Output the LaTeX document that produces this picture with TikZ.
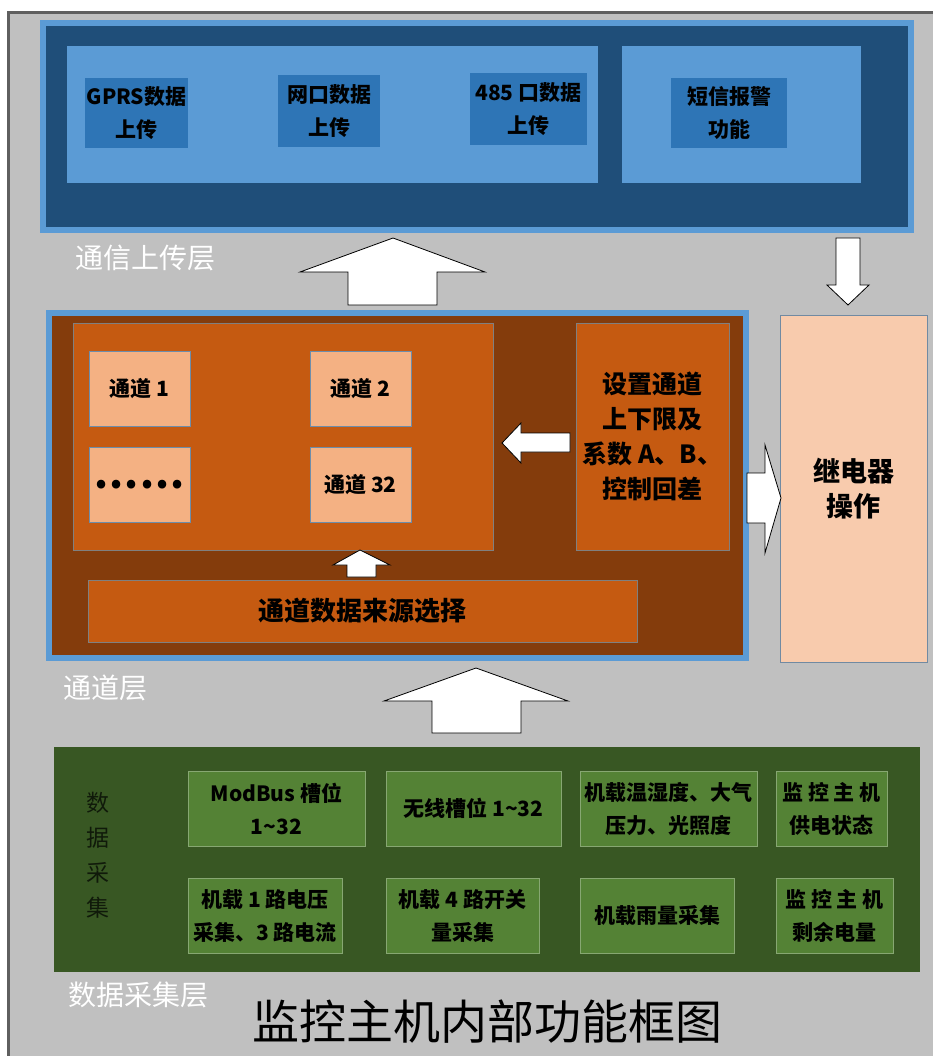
\documentclass[tikz,border=0pt]{standalone}
\usepackage{fontspec}
\setmainfont{Noto Sans CJK SC}
\usetikzlibrary{positioning}
\definecolor{framegray}{HTML}{C0C0C0}
\definecolor{edgegray}{HTML}{5F5F5F}
\definecolor{layerblue}{HTML}{5B9BD5}
\definecolor{commdark}{HTML}{1F4E79}
\definecolor{commbox}{HTML}{2E75B6}
\definecolor{chandark}{HTML}{843C0C}
\definecolor{chanpanel}{HTML}{C55A11}
\definecolor{chanbox}{HTML}{F4B183}
\definecolor{relaybox}{HTML}{F8CBAD}
\definecolor{acqdark}{HTML}{385723}
\definecolor{acqbox}{HTML}{548235}
\definecolor{acqtext}{HTML}{101A0A}
\tikzset{
        every node/.style={align=center,inner sep=0pt,outer sep=0pt},
        panel/.style={rectangle,fill=#1},
        subbox/.style={rectangle,fill=#1,font={\fontsize{21pt}{33pt}\selectfont\bfseries}},
        chanbox/.style={rectangle,fill=chanbox,draw=layerblue!50!gray,line width=0.8pt,
                minimum width=101pt,minimum height=75pt,font={\fontsize{21pt}{33pt}\selectfont\bfseries}},
        acqitem/.style={rectangle,fill=acqbox,draw=acqbox!70!white,line width=0.6pt,
                minimum height=75pt,font={\fontsize{21pt}{33pt}\selectfont\bfseries}},
        layerlabel/.style={text=white,font={\fontsize{28pt}{30pt}\selectfont}},
        fatarrow/.style={fill=white,draw=black,line width=0.8pt,line join=miter},
        }

\begin{document}
\begin{tikzpicture}[x=1pt,y=-1pt]

		% frame.....................
		\useasboundingbox (0,0) rectangle (933,1056);
		\fill [framegray] (8,12) rectangle (933,1056);
		\draw [edgegray, line width=3pt] (8.5,1056) -- (8.5,12.5) -- (933,12.5);

		% communication layer.......................
		\node [panel=commdark, draw=layerblue, line width=6pt, minimum width=868.5pt, minimum height=207.5pt] (commlayer) at (476.75,126.75) {};
		\node [panel=layerblue, minimum width=531pt, minimum height=137pt] (uploadpanel) at (332.5,114.5) {};
		\node [panel=layerblue, minimum width=239pt, minimum height=137pt] (alarmpanel) at (741.5,114.5) {};
		\node [subbox=commbox, minimum width=103pt, minimum height=70pt] (gprs) at (136.5,113) {GPRS数据\\上传};
		\node [subbox=commbox, minimum width=102pt, minimum height=72pt] (net) at (329,111) {网口数据\\上传};
		\node [subbox=commbox, minimum width=117pt, minimum height=72pt] (rs485) at (528.5,109) {485 口数据\\上传};
		\node [subbox=commbox, minimum width=116pt, minimum height=70pt] (sms) at (729,113) {短信报警\\功能};
		\node [layerlabel] (commlabel) at (145,258) {通信上传层};

		% arrows between layers.....................
		\draw [fatarrow] (348,305) -- (348,272) -- (300,272) -- (393,238) -- (485,272) -- (437,272) -- (437,305) -- cycle;
		\draw [fatarrow] (836,238) -- (860,238) -- (860,285) -- (869,285) -- (848,305) -- (827,285) -- (836,285) -- cycle;

		% channel layer.......................
		\node [panel=chandark, draw=layerblue, line width=6pt, minimum width=696.5pt, minimum height=345.5pt] (chanlayer) at (397.25,485.25) {};
		\node [panel=chanpanel, draw=gray, line width=0.6pt, minimum width=420pt, minimum height=227pt] (chanpanel) at (283,436.5) {};
		\node [panel=chanpanel, draw=gray, line width=0.6pt, minimum width=153pt, minimum height=227pt,
			font={\fontsize{25pt}{35pt}\selectfont\bfseries}] (setpanel) at (652.5,436.5) {设置通道\\上下限及\\系数 A、B、\\控制回差};
		\node [chanbox] (ch1) at (139.5,388.5) {通道 1};
		\node [chanbox] (ch2) at (360.5,388.5) {通道 2};
		\node [chanbox] (chdots) at (139.5,485) {\raisebox{-8pt}{\fontsize{40pt}{40pt}\selectfont .\hspace{1pt}.\hspace{1pt}.\hspace{1pt}.\hspace{1pt}.\hspace{1pt}.}};
		\node [chanbox] (ch32) at (360.5,485) {通道 32};
		\node [panel=chanpanel, draw=gray, line width=0.6pt, minimum width=549pt, minimum height=62pt,
			font={\fontsize{26pt}{30pt}\selectfont\bfseries}] (source) at (362.5,611) {通道数据来源选择};
		\node [panel=relaybox, draw=layerblue!40!gray, line width=0.8pt, minimum width=147pt, minimum height=347pt,
			font={\fontsize{27pt}{35pt}\selectfont\bfseries}] (relay) at (853.5,488.5) {继电器\\操作};
		\node [layerlabel] (chanlabel) at (105,688) {通道层};

		% arrows inside channel layer.....................
		\draw [fatarrow] (570,433) -- (521,433) -- (521,423) -- (502,443) -- (521,463) -- (521,452) -- (570,452) -- cycle;
		\draw [fatarrow] (347,577) -- (347,565) -- (333,565) -- (360,550) -- (390,565) -- (376,565) -- (376,577) -- cycle;
		\draw [fatarrow] (747,473) -- (765,473) -- (765,445) -- (781,498) -- (765,553) -- (765,523) -- (747,523) -- cycle;
		\draw [fatarrow] (432,733) -- (432,701) -- (384,701) -- (476,668) -- (568,701) -- (521,701) -- (521,733) -- cycle;

		% acquisition layer.......................
		\node [panel=acqdark, minimum width=866pt, minimum height=225pt] (acqlayer) at (487,859.5) {};
		\node [text=acqtext, font={\fontsize{23pt}{35pt}\selectfont\mdseries}] (acqside) at (98,855) {\color{acqtext}数\\据\\采\\集};
		\node [acqitem, minimum width=177pt] (modbus) at (276.5,808.5) {ModBus 槽位\\1{\textasciitilde}32};
		\node [acqitem, minimum width=175pt] (wireless) at (473.5,808.5) {无线槽位 1{\textasciitilde}32};
		\node [acqitem, minimum width=177pt] (env) at (668.5,808.5) {机载温湿度、大气\\压力、光照度};
		\node [acqitem, minimum width=111pt] (power) at (831.5,808.5) {监 控 主 机\\供电状态};
		\node [acqitem, minimum width=154pt] (analog) at (265,915.5) {机载 1 路电压\\采集、3 路电流};
		\node [acqitem, minimum width=153pt] (switch) at (462.5,915.5) {机载 4 路开关\\量采集};
		\node [acqitem, minimum width=154pt] (rain) at (657,915.5) {机载雨量采集};
		\node [acqitem, minimum width=117pt] (battery) at (834.5,915.5) {监 控 主 机\\剩余电量};
		\node [layerlabel] (acqlabel) at (138,995) {数据采集层};

		% title..............................
		\node [font={\fontsize{47pt}{50pt}\selectfont}] (title) at (487,1022) {监控主机内部功能框图};

	\end{tikzpicture}
\end{document}
